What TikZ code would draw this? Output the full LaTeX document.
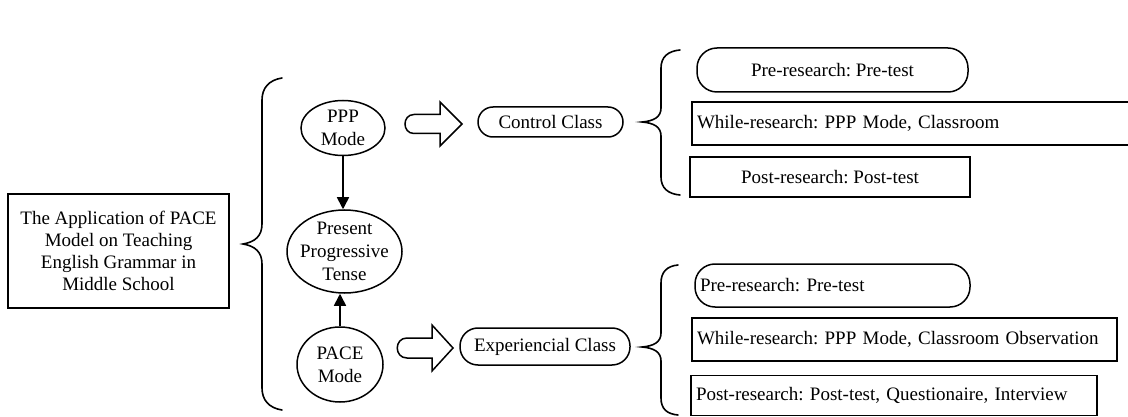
\documentclass[tikz,border=0pt]{standalone}
\usepackage{fontspec}
\setmainfont{Liberation Serif}
\frenchspacing
\usetikzlibrary{arrows.meta,shapes.geometric}
\begin{document}
\begin{tikzpicture}[x=1pt,y=-1pt,
  every node/.style={font=\fontsize{19}{22}\selectfont},
  box/.style={draw,line width=1.5pt,inner sep=0pt,align=center},
  lbox/.style={draw,line width=1.5pt,inner ysep=0pt,inner xsep=5pt,align=left},
  ell/.style={draw,ellipse,line width=1.5pt,inner sep=0pt},
  elltext/.style={align=center,font=\fontsize{19}{23}\selectfont},
  conn/.style={line width=1.6pt,-{Triangle[length=12pt,width=12pt]}},
  brc/.style={line width=1.6pt,line cap=round},
  hollow/.style={line width=1.5pt,line join=miter}]
\clip (0,0) rectangle (1128,417);
\fill[white] (0,0) rectangle (1128,417);

% title box
\node[box,minimum width=221pt,minimum height=114pt] (title) at (118.5,251)
  {The Application of PACE\\Model on Teaching\\English Grammar in\\Middle School};

% big brace
\draw[brc] (282,78) .. controls (269,80) and (262,88) .. (262,100) -- (262,224)
  .. controls (262,236) and (255,242) .. (243,244)
  .. controls (255,246) and (262,252) .. (262,264) -- (262,388)
  .. controls (262,400) and (269,408) .. (282,410);

% ellipses
\node[ell,minimum width=84pt,minimum height=55pt,
  label={[elltext]center:PPP\\Mode}] (ppp) at (343,128) {};
\node[ell,minimum width=115pt,minimum height=83pt,
  label={[elltext]center:Present\\Progressive\\Tense}] (ppt) at (344.5,251.5) {};
\node[ell,minimum width=86pt,minimum height=75pt,
  label={[elltext]center:PACE\\Mode}] (pace) at (340,364.5) {};

\draw[conn] (ppp.south) -- (ppp.south |- ppt.north);
\draw[conn] (pace.north) -- (pace.north |- ppt.south);

% hollow arrows
\draw[hollow] (440,114.5) -- (440,102) -- (462,124) -- (440,146) -- (440,133.5) -- (414,133.5)
  .. controls (402,133.5) and (402,114.5) .. (414,114.5) -- cycle;
\draw[hollow] (432,338) -- (432,325) -- (453,348) -- (432,371) -- (432,358) -- (407,358)
  .. controls (394,358) and (394,338) .. (407,338) -- cycle;

% class boxes
\node[box,rounded corners=15pt,minimum width=145pt,minimum height=30pt] (ctrl) at (550.5,122) {Control Class};
\node[box,rounded corners=18pt,minimum width=170pt,minimum height=37pt] (exp) at (545,346.5) {Experiencial Class};

% brace control
\draw[brc] (680,50) .. controls (668,51) and (661,57) .. (661,68) -- (661,108)
  .. controls (661,117) and (654,121) .. (642,122)
  .. controls (654,123) and (661,127) .. (661,136) -- (661,177)
  .. controls (661,188) and (668,194) .. (680,195);
% brace experiencial
\draw[brc] (678,265) .. controls (667,266) and (661,272) .. (661,283) -- (661,333)
  .. controls (661,342) and (654,346) .. (642,347)
  .. controls (654,348) and (661,352) .. (661,361) -- (661,398)
  .. controls (661,409) and (667,414) .. (678,415);

% control class steps
\node[box,rounded corners=20pt,minimum width=271pt,minimum height=44pt] (pre1) at (832.5,70) {Pre-research: Pre-test};
\node[lbox,minimum height=43pt,text width=430pt] (while1) at (912,123.5) {While-research: PPP Mode, Classroom};
\node[box,minimum width=280pt,minimum height=40pt] (post1) at (830,177) {Post-research: Post-test};

% experiencial class steps
\node[lbox,rounded corners=20pt,minimum height=43pt,text width=265pt] (pre2) at (832.5,285.5) {Pre-research: Pre-test};
\node[lbox,minimum height=43pt,text width=415pt] (while2) at (904.5,339.5) {While-research: PPP Mode, Classroom Observation};
\node[lbox,minimum height=40pt,text width=396pt] (post2) at (894,395.5) {Post-research: Post-test, Questionaire, Interview};
\end{tikzpicture}
\end{document}
